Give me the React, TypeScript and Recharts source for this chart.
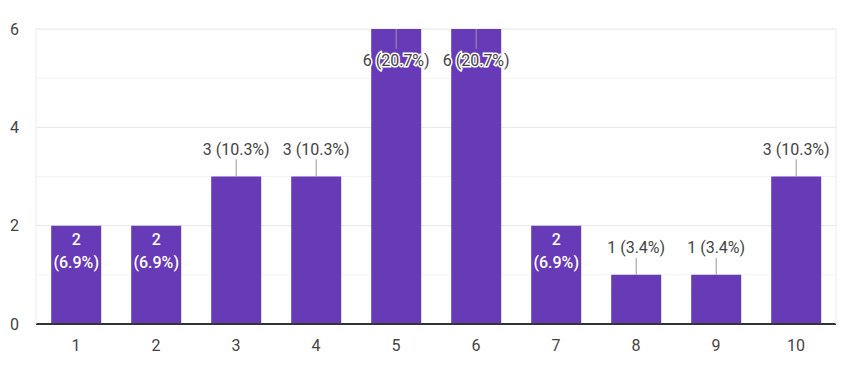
import { BarChart, Bar, XAxis, YAxis, CartesianGrid, LabelList } from 'recharts'

const categories = ['1', '2', '3', '4', '5', '6', '7', '8', '9', '10']
const counts = [2, 2, 3, 3, 6, 6, 2, 1, 1, 3]
const yTicks = [0, 2, 4, 6]
const minorLines = [1, 3, 5]

const total = counts.reduce((a, b) => a + b, 0)
const yMax = yTicks[yTicks.length - 1]
const data = categories.map((name, i) => ({ name, count: counts[i] }))

const font = 'Roboto, Arial, sans-serif'
const pct = (v: number) => `(${((v / total) * 100).toFixed(1)}%)`

// eslint-disable-next-line @typescript-eslint/no-explicit-any
function renderLabel(props: any) {
  const { x, y, width, value } = props
  const v = Number(value)
  const cx = Number(x) + Number(width) / 2
  const top = Number(y)
  const base = { fontFamily: font, fontSize: 16, textAnchor: 'middle' as const, dominantBaseline: 'central' as const }

  if (v >= yMax) {
    // bar reaches top of plot: label drawn inside with a halo
    return (
      <g>
        <line x1={cx} x2={cx} y1={top} y2={top + 20} stroke="#999" />
        <text {...base} x={cx} y={top + 31} fill="#444" stroke="#fff" strokeWidth={3} paintOrder="stroke">
          {`${v} ${pct(v)}`}
        </text>
      </g>
    )
  }
  if (v === 2) {
    return (
      <g>
        <text {...base} x={cx} y={top + 14} fill="#fff" fontWeight={500}>{v}</text>
        <text {...base} x={cx} y={top + 37} fill="#fff" fontWeight={500}>{pct(v)}</text>
      </g>
    )
  }
  return (
    <g>
      <line x1={cx} x2={cx} y1={top} y2={top - 17} stroke="#999" />
      <text {...base} x={cx} y={top - 27} fill="#444">
        {`${v} ${pct(v)}`}
      </text>
    </g>
  )
}

export default function App() {
  return (
    <div style={{ position: 'absolute', left: 0, top: 0, background: '#fff' }}>
      <BarChart width={850} height={378} data={data} margin={{ top: 29, right: 0, bottom: 24, left: 0 }} barCategoryGap="19%">
        <CartesianGrid vertical={false} horizontalValues={minorLines} stroke="#f3f3f3" yAxisId="l" />
        <CartesianGrid vertical={false} horizontalValues={yTicks} stroke="#e6e6e6" yAxisId="l" />
        <XAxis
          dataKey="name"
          height={30}
          axisLine={{ stroke: '#333', strokeWidth: 2 }}
          tickLine={false}
          tickSize={0}
          tickMargin={16}
          tick={{ fill: '#444', fontSize: 16, fontFamily: font }}
        />
        <YAxis
          yAxisId="l"
          width={36}
          domain={[0, yMax]}
          ticks={yTicks}
          axisLine={{ stroke: '#ececec' }}
          tickLine={false}
          tickSize={0}
          tickMargin={17}
          tick={{ fill: '#444', fontSize: 16, fontFamily: font }}
        />
        <YAxis
          yAxisId="r"
          orientation="right"
          width={14}
          domain={[0, yMax]}
          tick={false}
          tickLine={false}
          axisLine={{ stroke: '#ececec' }}
        />
        <Bar yAxisId="l" dataKey="count" fill="#673ab7" isAnimationActive={false}>
          <LabelList dataKey="count" content={renderLabel} />
        </Bar>
      </BarChart>
    </div>
  )
}
